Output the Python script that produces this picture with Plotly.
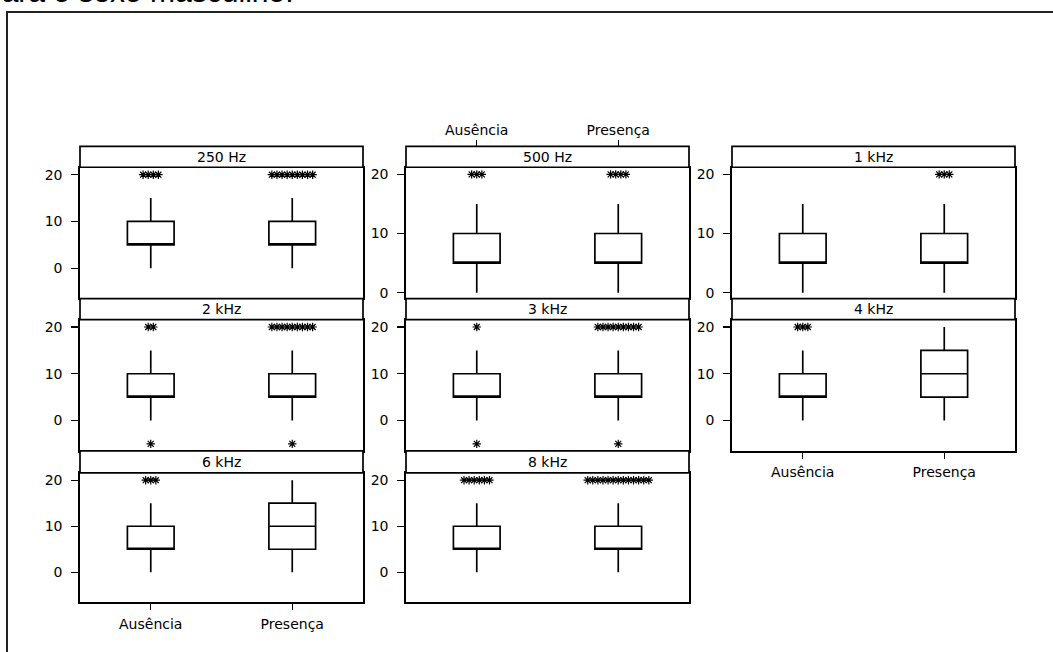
import plotly.graph_objects as go

# ---------------- data ----------------
frequencies = ["250 Hz", "500 Hz", "1 kHz", "2 kHz", "3 kHz", "4 kHz", "6 kHz", "8 kHz"]
groups = ["Ausência", "Presença"]
y_ticks = [0, 10, 20]
page_text = "para o sexo masculino."

aus_q1 = [5, 5, 5, 5, 5, 5, 5, 5]
aus_median = [5, 5, 5, 5, 5, 5, 5, 5]
aus_q3 = [10, 10, 10, 10, 10, 10, 10, 10]
aus_low = [0, 0, 0, 0, 0, 0, 0, 0]
aus_high = [15, 15, 15, 15, 15, 15, 15, 15]

pre_q1 = [5, 5, 5, 5, 5, 5, 5, 5]
pre_median = [5, 5, 5, 5, 5, 10, 10, 5]
pre_q3 = [10, 10, 10, 10, 10, 15, 15, 10]
pre_low = [0, 0, 0, 0, 0, 0, 0, 0]
pre_high = [15, 15, 15, 15, 15, 20, 20, 15]

aus_outliers = [
    [20, 20, 20, 20],
    [20, 20, 20],
    [],
    [20, 20, -5],
    [20, -5],
    [20, 20, 20],
    [20, 20, 20],
    [20, 20, 20, 20, 20, 20],
]
pre_outliers = [
    [20, 20, 20, 20, 20, 20, 20, 20, 20],
    [20, 20, 20, 20],
    [20, 20, 20],
    [20, 20, 20, 20, 20, 20, 20, 20, 20, -5],
    [20, 20, 20, 20, 20, 20, 20, 20, 20, -5],
    [],
    [],
    [20, 20, 20, 20, 20, 20, 20, 20, 20, 20, 20, 20, 20],
]

# ---------------- layout helpers ----------------
W, H = 1053, 652
def fx(px):
    return px / W
def fy(py):
    return 1 - py / H

cols_px = [(80, 363), (406, 689), (732, 1015)]
rows_px = [(146, 167, 299), (299, 320, 452), (452, 474, 604)]
panel_pos = [(0, 0), (0, 1), (0, 2), (1, 0), (1, 1), (1, 2), (2, 0), (2, 1)]
narrow_panels = [1, 2]
bottom_label_panels = [5, 6]
top_label_panel = 1
yr_wide = [-6.5, 21.6]
yr_narrow = [-1.0, 21.2]
xr = [-0.5, 1.5]
tie_step = 0.036
FONT = "DejaVu Sans"
LW = 1.7

fig = go.Figure()
shapes = []
annotations = []

for i, freq in enumerate(frequencies):
    n = i + 1
    xa, ya = f"x{n}", f"y{n}"
    stats = [
        (aus_q1[i], aus_median[i], aus_q3[i], aus_low[i], aus_high[i], aus_outliers[i]),
        (pre_q1[i], pre_median[i], pre_q3[i], pre_low[i], pre_high[i], pre_outliers[i]),
    ]
    for gi, (q1, med, q3, lo, hi, outs) in enumerate(stats):
        fig.add_trace(go.Box(
            x=[gi], q1=[q1], median=[med], q3=[q3], lowerfence=[lo], upperfence=[hi],
            xaxis=xa, yaxis=ya, width=0.33, whiskerwidth=0, fillcolor="white",
            line=dict(color="black", width=LW), boxpoints=False, hoverinfo="skip",
        ))
        # outliers, ties spread side by side
        ox, oy = [], []
        for v in sorted(set(outs)):
            cnt = outs.count(v)
            for k in range(cnt):
                ox.append(gi + (k - (cnt - 1) / 2) * tie_step)
                oy.append(v)
        if ox:
            fig.add_trace(go.Scatter(
                x=ox, y=oy, mode="markers", xaxis=xa, yaxis=ya, hoverinfo="skip",
                marker=dict(symbol="asterisk-open", size=7, color="black",
                            line=dict(color="black", width=1.2)),
            ))

    r, c = panel_pos[i]
    left, right = cols_px[c]
    htop, ptop, pbot = rows_px[r]
    show_bottom = i in bottom_label_panels
    fig.update_layout(**{
        f"xaxis{n}": dict(
            domain=[fx(left), fx(right)], anchor=ya, range=xr,
            showline=True, mirror=True, linecolor="black", linewidth=LW,
            showgrid=False, zeroline=False,
            tickvals=[0, 1], ticktext=groups,
            ticks="outside" if show_bottom else "", ticklen=6, tickwidth=1.3,
            tickcolor="black",
            showticklabels=show_bottom, ticklabelstandoff=2,
            tickfont=dict(family=FONT, size=14, color="black"),
        ),
        f"yaxis{n}": dict(
            domain=[fy(pbot), fy(ptop)], anchor=xa,
            range=yr_narrow if i in narrow_panels else yr_wide,
            showline=True, mirror=True, linecolor="black", linewidth=LW,
            showgrid=False, zeroline=False,
            tickvals=y_ticks, ticks="outside", ticklen=7, tickwidth=1.3,
            tickcolor="black", ticklabelstandoff=6,
            tickfont=dict(family=FONT, size=14, color="black"),
        ),
    })
    # strip header
    shapes.append(dict(type="rect", xref="paper", yref="paper",
                       x0=fx(left), x1=fx(right), y0=fy(ptop), y1=fy(htop),
                       line=dict(color="black", width=LW), fillcolor="white", layer="above"))
    annotations.append(dict(text=freq, xref="paper", yref="paper",
                            x=(fx(left) + fx(right)) / 2, y=(fy(ptop) + fy(htop)) / 2,
                            xanchor="center", yanchor="middle", showarrow=False,
                            font=dict(family=FONT, size=14, color="black")))

# top category labels above the 500 Hz panel
tl = top_label_panel + 1
fig.add_trace(go.Scatter(x=[None], y=[None], xaxis="x9", yaxis=f"y{tl}",
                         mode="markers", hoverinfo="skip"))
fig.update_layout(xaxis9=dict(
    overlaying=f"x{tl}", anchor="free", position=fy(rows_px[0][0]), side="top",
    range=xr, showline=False, showgrid=False, zeroline=False,
    tickvals=[0, 1], ticktext=groups, ticks="outside", ticklen=6, tickwidth=1.3,
    tickcolor="black", ticklabelstandoff=0,
    tickfont=dict(family=FONT, size=14, color="black"),
))

# page frame and cut-off document text
shapes.append(dict(type="rect", xref="paper", yref="paper",
                   x0=fx(7), x1=fx(1100), y0=fy(700), y1=fy(11),
                   line=dict(color="#222222", width=2), fillcolor="rgba(0,0,0,0)", layer="below"))
annotations.append(dict(text=page_text, xref="paper", yref="paper",
                        x=fx(-17), y=fy(9), xanchor="left", yanchor="bottom",
                        showarrow=False,
                        font=dict(family="Liberation Sans", size=30, color="black")))

fig.update_layout(
    width=W, height=H, margin=dict(l=0, r=0, t=0, b=0),
    paper_bgcolor="white", plot_bgcolor="white", showlegend=False,
    shapes=shapes, annotations=annotations,
)

fig.write_html("out.html",
               config={"displayModeBar": False, "staticPlot": True},
               post_script="document.body.style.margin='0';document.body.style.overflow='hidden';")
